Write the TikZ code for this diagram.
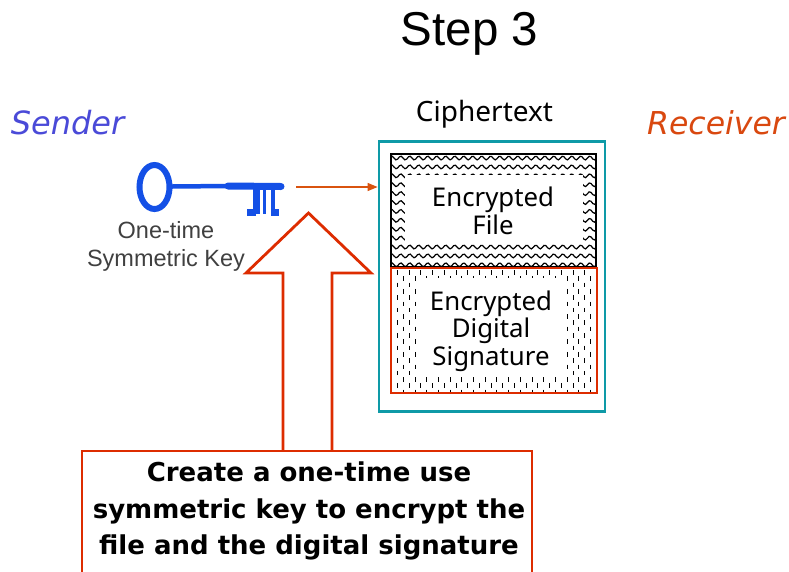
\documentclass[tikz,border=0pt]{standalone}
\usepackage{fontspec}
\setmainfont{DejaVu Sans}
\newfontfamily\arialf{Liberation Sans}
\newfontfamily\tahf{Noto Sans}
\usetikzlibrary{arrows.meta}
\definecolor{tealb}{HTML}{0E9AA7}
\definecolor{redb}{HTML}{DD2C00}
\definecolor{keyblue}{HTML}{1450E6}
\definecolor{sendc}{HTML}{4A4AD8}
\definecolor{recvc}{HTML}{D9480F}
\definecolor{arrowc}{HTML}{D9530F}
\tikzset{
 x=1pt,y=-1pt,
 boxred/.style={draw=redb,line width=2.8pt},
 lbl/.style={inner sep=0pt,align=center,text=black},
 bold/.style={inner sep=0pt,align=center,font=\fontsize{26}{36.5}\selectfont\bfseries},
 keypart/.style={draw=keyblue,line cap=round}
}
\begin{document}
\begin{tikzpicture}
\useasboundingbox (0,0) rectangle (789,571);
\fill[white] (0,0) rectangle (789,571);
% titles
\node[inner sep=0pt,font=\arialf\fontsize{47.5}{50}\selectfont] (title) at (469.5,34) {Step 3};
\node[inner sep=0pt,text=sendc,font=\itshape\fontsize{32}{36}\selectfont] (sender) at (67.5,123) {Sender};
\node[inner sep=0pt,text=recvc,font=\itshape\fontsize{31.5}{36}\selectfont] (receiver) at (716,123) {Receiver};
\node[inner sep=0pt,font=\tahf\fontsize{28}{32}\selectfont] (ctext) at (484.5,114) {Ciphertext};
% ciphertext frame
\node[draw=tealb,line width=2.8pt,minimum width=226pt,minimum height=270pt,inner sep=0pt] (frame) at (492,276.5) {};
% upper pattern
\begin{scope}
\clip (391,154) rectangle (596,267);
\foreach \r in {0,...,12}{
  \draw[black,line width=1.2pt] plot[domain=0:215,samples=120,smooth] ({385+\x},{158+\r*8.9+1.9*sin(\x*40)});
}
\end{scope}
\fill[white] (405,175) rectangle (583,243);
\node[draw=black,line width=2.8pt,minimum width=205pt,minimum height=113pt,inner sep=0pt] (filebox) at (493.5,210.5) {};
% lower pattern
\begin{scope}
\clip (391,268) rectangle (597,393);
\foreach \r in {0,...,19}{
 \foreach \c in {0,...,35}{
  \pgfmathparse{int(mod(\r+\c,2))}
  \ifnum\pgfmathresult=0
   \draw[black,line width=1pt] (397.5+\c*5.85,270+\r*6.3) -- ++(0,4.6);
  \fi
 }
}
\end{scope}
\fill[white] (418,278) rectangle (563,377);
\node[boxred,minimum width=206pt,minimum height=125pt,inner sep=0pt] (sigbox) at (494,330.5) {};
\node[lbl,font=\tahf\fontsize{25.8}{27.5}\selectfont] (filetxt) at (493,211) {Encrypted\\File};
\node[lbl,font=\tahf\fontsize{25.8}{27.5}\selectfont] (sigtxt) at (491,331) {Encrypted\\Digital\\Signature};
% key
\draw[keypart,line width=6pt] (154.5,187) ellipse (15pt and 22pt);
\draw[keypart,line width=4.5pt] (172,186.5) -- (228,186);
\draw[keypart,line width=7pt] (228,186) -- (281,186.5);
\draw[draw=keyblue,line width=7pt] (256,188) -- (256,214);
\draw[draw=keyblue,line width=3.2pt] (264.5,188) -- (264.5,214);
\draw[draw=keyblue,line width=3.2pt] (273,188) -- (273,214);
\fill[keyblue] (247,209) rectangle (256,216);
\fill[keyblue] (271,209) rectangle (279,216);
\node[lbl,text=black!75,font=\arialf\fontsize{23.5}{28}\selectfont] (keytxt) at (166,246) {One-time\\Symmetric Key};
\coordinate (keyend) at (296,187);
\draw[arrowc,line width=1.1pt,-{Triangle[length=10pt,width=8pt]}] (keyend) -- (frame.west |- keyend);
% big arrow
\node[boxred,minimum width=450pt,minimum height=140pt,inner sep=0pt] (note) at (307,521) {};
\coordinate (tipn) at (308.5,213);
\coordinate (wl) at (246,273);
\coordinate (wr) at (371,273);
\coordinate (sl) at (283,273);
\coordinate (sr) at (332,273);
\draw[redb,line width=2.8pt,line join=miter] (283,451) -- (sl) -- (wl) -- (tipn) -- (wr) -- (sr) -- (332,451);
\node[bold] (notetxt) at (309,511) {Create a one-time use\\symmetric key to encrypt the\\file and the digital signature};
\end{tikzpicture}
\end{document}
